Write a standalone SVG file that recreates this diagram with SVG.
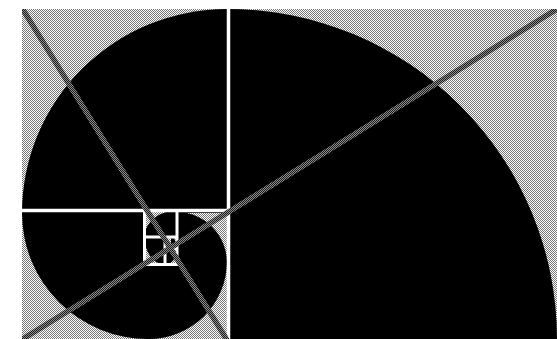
<svg xmlns="http://www.w3.org/2000/svg" width="557" height="339" viewBox="0 0 557 339">
  <defs>
    <pattern id="bg" x="0" y="0" width="2" height="2" patternUnits="userSpaceOnUse">
      <rect x="0" y="0" width="2" height="2" fill="#ffffff"/>
      <rect x="0" y="0" width="1" height="1" fill="#747474"/>
      <rect x="1" y="1" width="1" height="1" fill="#747474"/>
    </pattern>
    <pattern id="ln" x="0" y="0" width="2" height="2" patternUnits="userSpaceOnUse">
      <rect x="0" y="0" width="2" height="2" fill="#8e8e8e"/>
      <rect x="0" y="0" width="1" height="1" fill="#1a1a1a"/>
      <rect x="1" y="1" width="1" height="1" fill="#1a1a1a"/>
    </pattern>
    <clipPath id="frame">
      <rect x="22" y="9" width="535" height="330"/>
    </clipPath>
  </defs>
  <style>
    .pie { fill: #000000; }
    .wl { stroke: #ffffff; fill: none; stroke-width: 3.5; }
    .wl2 { stroke: #ffffff; fill: none; stroke-width: 3; }
    .diag { stroke: url(#ln); stroke-width: 5.5; fill: none; }
  </style>
  <rect width="557" height="339" fill="#ffffff"/>
  <g clip-path="url(#frame)">
    <rect id="background" x="22" y="9" width="535" height="330" fill="url(#bg)" shape-rendering="crispEdges"/>
    <g id="spiral">
      <path class="pie" d="M227,339 L227,9 A330,330 0 0 1 557,339 Z"/>
      <path class="pie" d="M227,213 L22,213 A205,204 0 0 1 227,9 Z"/>
      <path class="pie" d="M149,213 L149,339 A126,126 0 0 1 22,213 Z"/>
      <path class="pie" d="M149,261 L227,261 A78,78 0 0 1 149,339 Z"/>
      <path class="pie" d="M177,263 L177,212 A50,51 0 0 1 227,263 Z"/>
    </g>
    <g id="eye">
      <rect x="144.5" y="210.5" width="32.5" height="54" fill="url(#bg)" shape-rendering="crispEdges"/>
      <path class="pie" d="M177,237 L144.5,237 A32.5,26.5 0 0 1 177,210.5 Z"/>
      <path class="pie" d="M165,237 L165,264.5 A20.5,27.5 0 0 1 144.5,237 Z"/>
      <path class="pie" d="M165,249 L177,249 A12,15.5 0 0 1 165,264.5 Z"/>
      <path class="pie" d="M171,249 L171,237 A6,12 0 0 1 177,249 Z"/>
    </g>
    <g id="dividers">
      <line class="wl" x1="228.5" y1="9" x2="228.5" y2="339"/>
      <line class="wl" x1="22" y1="210.5" x2="228.5" y2="210.5"/>
      <path class="wl2" d="M144.5,211 L144.5,264.5 L177,264.5 L177,211"/>
      <line class="wl2" x1="144.5" y1="237" x2="177" y2="237"/>
      <line class="wl2" x1="165" y1="237" x2="165" y2="264.5"/>
      <line class="wl2" x1="165" y1="249" x2="177" y2="249"/>
    </g>
    <g id="connectors">
      <line class="diag" x1="22" y1="8" x2="227" y2="340"/>
      <line class="diag" x1="22" y1="339.5" x2="557" y2="9"/>
    </g>
  </g>
</svg>
